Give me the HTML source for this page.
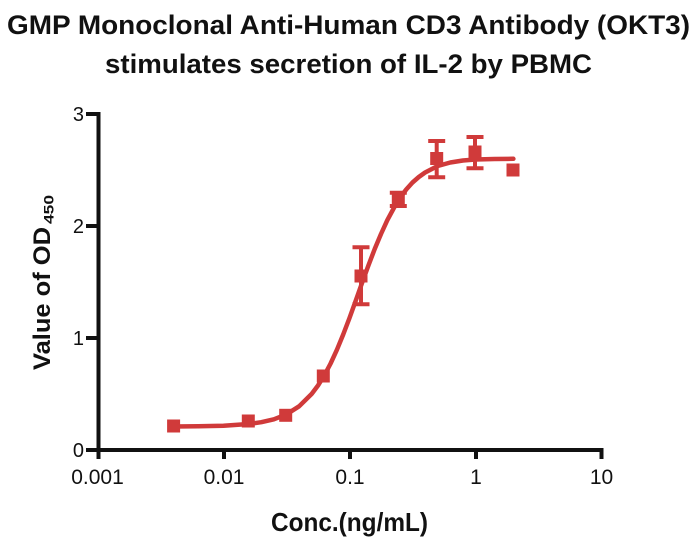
<!DOCTYPE html>
<html>
<head>
<meta charset="utf-8">
<style>
  html, body { margin: 0; padding: 0; background: #fff; }
  svg { display: block; }
  text { font-family: "Liberation Sans", Arial, sans-serif; fill: #111; }
</style>
</head>
<body>
<svg width="700" height="541" viewBox="0 0 700 541" xmlns="http://www.w3.org/2000/svg">
  <rect width="700" height="541" fill="#fff"/>
  <!-- Title -->
  <text x="7" y="34" font-size="26.5" font-weight="bold" textLength="683" lengthAdjust="spacingAndGlyphs">GMP Monoclonal Anti-Human CD3 Antibody (OKT3)</text>
  <text x="105" y="73" font-size="26.5" font-weight="bold" textLength="487" lengthAdjust="spacingAndGlyphs">stimulates secretion of IL-2 by PBMC</text>

  <!-- Axes -->
  <g stroke="#111" stroke-width="4" fill="none">
    <line x1="98.5" y1="112" x2="98.5" y2="459"/>
    <line x1="96.5" y1="450" x2="603.5" y2="450"/>
    <!-- y ticks -->
    <line x1="86" y1="114" x2="98.5" y2="114"/>
    <line x1="86" y1="226" x2="98.5" y2="226"/>
    <line x1="86" y1="338" x2="98.5" y2="338"/>
    <line x1="86" y1="450" x2="98.5" y2="450"/>
    <!-- x ticks -->
    <line x1="224" y1="450" x2="224" y2="459"/>
    <line x1="350" y1="450" x2="350" y2="459"/>
    <line x1="476" y1="450" x2="476" y2="459"/>
    <line x1="601.5" y1="450" x2="601.5" y2="459"/>
  </g>

  <!-- y tick labels -->
  <g font-size="20" text-anchor="end">
    <text x="84" y="121">3</text>
    <text x="84" y="233">2</text>
    <text x="84" y="345">1</text>
    <text x="84" y="457">0</text>
  </g>
  <!-- x tick labels -->
  <g font-size="21" text-anchor="middle">
    <text x="97.5" y="484">0.001</text>
    <text x="224" y="484">0.01</text>
    <text x="350" y="484">0.1</text>
    <text x="476" y="484">1</text>
    <text x="601.5" y="484">10</text>
  </g>

  <!-- Axis titles -->
  <text x="271" y="531" font-size="26" font-weight="bold" textLength="157" lengthAdjust="spacingAndGlyphs">Conc.(ng/mL)</text>
  <text transform="translate(50,370) rotate(-90)" font-size="24" font-weight="bold" textLength="143" lengthAdjust="spacingAndGlyphs">Value of OD</text>
  <text transform="translate(53.5,224) rotate(-90)" font-size="14" font-weight="bold" textLength="29" lengthAdjust="spacingAndGlyphs">450</text>

  <!-- Fitted curve -->
  <polyline fill="none" stroke="#d03a3a" stroke-width="4.5" stroke-linejoin="round" stroke-linecap="round"
    points="173.1,426.5 198.3,426.3 223.5,425.7 248.7,424.0 261.3,422.2 273.9,419.3 286.5,414.3 299.1,406.3 311.7,393.9 318,385.5 324.3,375.4 330.6,363.5 336.9,349.8 343.2,334.5 349.5,318.0 355.8,300.5 362.1,282.7 368.4,265.5 374.7,249.0 381,234 387.3,220.2 393.6,208.5 399.9,198.0 406.2,189.5 412.5,182.5 418.8,177 425.1,172.5 437.7,166 450.3,162.5 462.9,160.5 475.5,159.5 494.4,159 513.4,158.8"/>

  <!-- Error bars -->
  <g stroke="#d03a3a" stroke-width="4" stroke-linecap="butt" fill="none">
    <line x1="361" y1="247.3" x2="361" y2="304.3"/>
    <line x1="352.5" y1="247.3" x2="369.5" y2="247.3"/>
    <line x1="352.5" y1="304.3" x2="369.5" y2="304.3"/>

    <line x1="398.3" y1="192.7" x2="398.3" y2="206"/>
    <line x1="389.8" y1="192.7" x2="406.8" y2="192.7"/>
    <line x1="389.8" y1="206" x2="406.8" y2="206"/>

    <line x1="436.7" y1="141" x2="436.7" y2="177.3"/>
    <line x1="428.2" y1="141" x2="445.2" y2="141"/>
    <line x1="428.2" y1="177.3" x2="445.2" y2="177.3"/>

    <line x1="475" y1="137" x2="475" y2="168.3"/>
    <line x1="466.5" y1="137" x2="483.5" y2="137"/>
    <line x1="466.5" y1="168.3" x2="483.5" y2="168.3"/>
  </g>

  <!-- Markers -->
  <g fill="#d03a3a">
    <rect x="167.1" y="419.5" width="13" height="13"/>
    <rect x="241.8" y="414.5" width="13" height="13"/>
    <rect x="279.2" y="408.8" width="13" height="13"/>
    <rect x="316.8" y="369.5" width="13" height="13"/>
    <rect x="354.5" y="269.5" width="13" height="13"/>
    <rect x="391.8" y="192.8" width="13" height="13"/>
    <rect x="430.2" y="152" width="13" height="13"/>
    <rect x="468.5" y="145.5" width="13" height="13"/>
    <rect x="506.5" y="163.5" width="13" height="13"/>
  </g>
</svg>
</body>
</html>
